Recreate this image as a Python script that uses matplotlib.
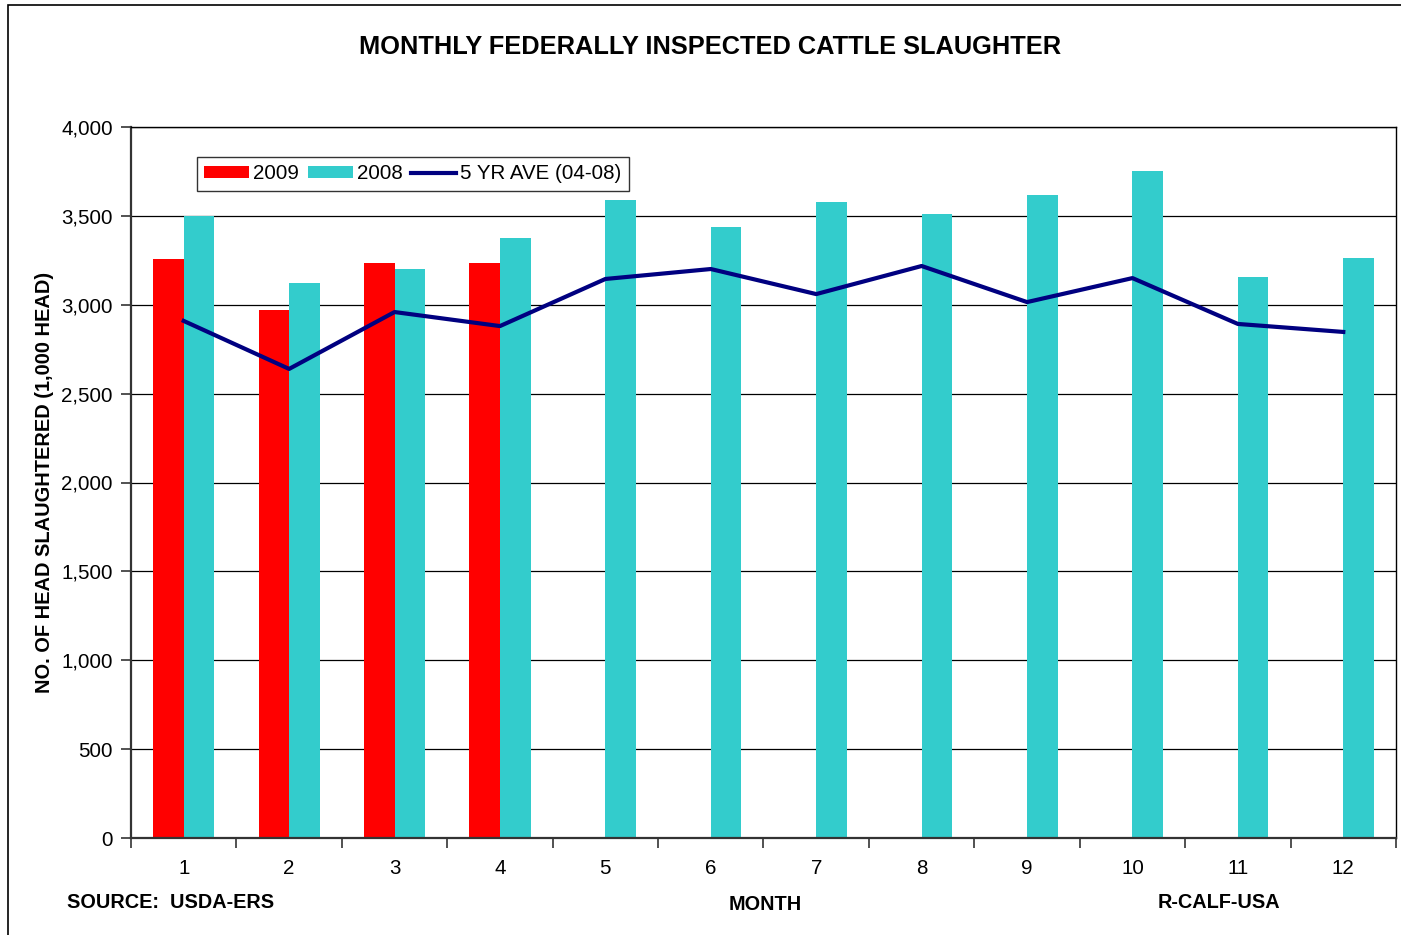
import numpy as np
import matplotlib.pyplot as plt
from matplotlib.patches import Rectangle

plt.rcParams['font.family'] = ['Liberation Sans', 'DejaVu Sans']

# donnees (1 000 tetes)
months = np.arange(1, 13)
slaughter_2009 = [3257, 2970, 3235, 3235]
slaughter_2008 = [3499, 3122, 3201, 3376, 3589, 3437, 3578, 3510, 3617, 3752, 3156, 3263]
ave_5yr = [2909, 2639, 2959, 2880, 3145, 3201, 3060, 3218, 3015, 3150, 2892, 2847]
month_labels = [str(m) for m in months]

fig = plt.figure(figsize=(14.01, 9.35), dpi=100)
ax = fig.add_axes([131 / 1401, 1 - 838 / 935, (1396 - 131) / 1401, (838 - 127) / 935])

w = 0.29
b1 = ax.bar(months[:len(slaughter_2009)] - w / 2, slaughter_2009, width=w, color='#FF0000', label='2009', zorder=2)
b2 = ax.bar(months + w / 2, slaughter_2008, width=w, color='#33CCCC', label='2008', zorder=2)
l1, = ax.plot(months, ave_5yr, color='#000080', lw=3, label='5 YR AVE (04-08)', zorder=3)

ax.set_xlim(0.5, 12.5)
ax.set_ylim(0, 4000)
ax.set_yticks(np.arange(0, 4001, 500))
ax.set_yticklabels(['{:,}'.format(v) for v in range(0, 4001, 500)], fontsize=14.8)
ax.yaxis.grid(True, color='black', lw=0.9, zorder=0)
ax.set_axisbelow(True)

# ticks aux limites des categories, etiquettes au centre
ax.set_xticks(np.arange(0.5, 13, 1))
ax.set_xticklabels([])
ax.set_xticks(months, minor=True)
ax.set_xticklabels(month_labels, minor=True, fontsize=14.8)
ax.tick_params(axis='x', which='minor', length=0, pad=15)
ax.tick_params(axis='x', which='major', length=7, width=1.2, color='#333333')
ax.tick_params(axis='y', length=7, width=1.2, color='#333333', pad=6)
for s in ax.spines.values():
    s.set_linewidth(1.0)
ax.spines['left'].set_linewidth(1.6)
ax.spines['bottom'].set_linewidth(1.6)
ax.spines['left'].set_color('#333333')
ax.spines['bottom'].set_color('#333333')

ax.set_ylabel('NO. OF HEAD SLAUGHTERED (1,000 HEAD)', fontsize=14.4, fontweight='bold', labelpad=5)

leg = ax.legend(handles=[b1, b2, l1], loc='upper left', bbox_to_anchor=(0.044, 0.972), ncol=3,
                fontsize=14.8, frameon=True, fancybox=False, edgecolor='black', handlelength=2.2,
                handleheight=0.5, handletextpad=0.2, columnspacing=0.4, borderpad=0.35)
leg.get_frame().set_linewidth(1.0)

fig.text(710 / 1401, 1 - 47 / 935, 'MONTHLY FEDERALLY INSPECTED CATTLE SLAUGHTER',
         ha='center', va='center', fontsize=18.3, fontweight='bold')
fig.text(67 / 1401, 1 - 902 / 935, 'SOURCE:  USDA-ERS', ha='left', va='center', fontsize=14.3, fontweight='bold')
fig.text(765 / 1401, 1 - 904 / 935, 'MONTH', ha='center', va='center', fontsize=14.3, fontweight='bold')
fig.text(1158 / 1401, 1 - 902 / 935, 'R-CALF-USA', ha='left', va='center', fontsize=14.3, fontweight='bold')

# cadre exterieur
fig.patches.append(Rectangle((8 / 1401, -0.05), 1.2, 1 - 5 / 935 + 0.05, transform=fig.transFigure,
                             fill=False, edgecolor='black', lw=1.2))

fig.savefig('out.png', dpi=100)
